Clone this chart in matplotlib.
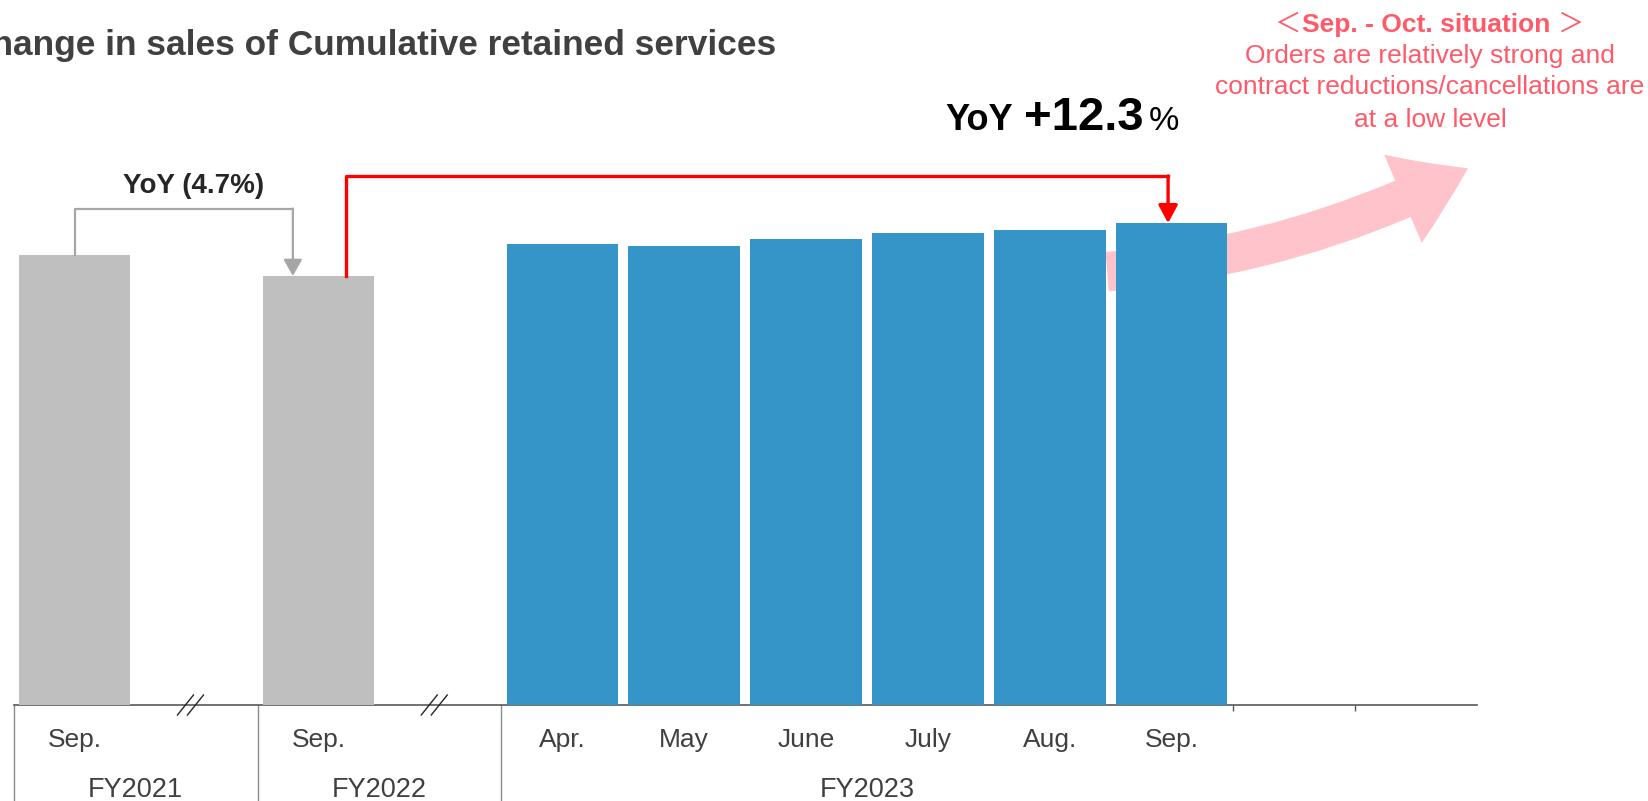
import matplotlib
matplotlib.use("Agg")
from matplotlib import pyplot as plt
from matplotlib.patches import FancyArrowPatch

plt.rcParams['font.family'] = ['Liberation Sans', 'DejaVu Sans']

# sales of cumulative retained services, index (Sep. FY2022 = 100)
months = ["Sep.", "Sep.", "Apr.", "May", "June", "July", "Aug.", "Sep."]
slots = [0, 2, 4, 5, 6, 7, 8, 9]
sales = [104.9, 100.0, 107.5, 107.0, 108.6, 110.0, 110.7, 112.3]
bar_colors = ["#BFBFBF", "#BFBFBF"] + ["#3595C9"] * 6
years = ["FY2021", "FY2022", "FY2023"]
year_spans = [(-0.5, 1.5), (1.5, 3.5), (3.5, 9.5)]
break_slots = [0.95, 2.95]

note_head = "Sep. - Oct. situation"
note_lines = ["Orders are relatively strong and",
              "contract reductions/cancellations are",
              "at a low level"]

W, H, DPI = 1648, 801, 100
TEXT = "#404040"
PINK_TXT = "#FF5A69"


def fpos(x, y):
    # pixel position (from top-left) -> figure fraction
    return x / W, 1 - y / H


fig = plt.figure(figsize=(W / DPI, H / DPI), dpi=DPI)
ax = fig.add_axes([13.7 / W, 96 / H, 1462.8 / W, 705 / H])
ax.set_xlim(-0.5, 11.5)
ax.set_ylim(0, 164.3)

ax.bar(slots, sales, width=0.914, color=bar_colors, zorder=3)

for s in ["left", "right", "top"]:
    ax.spines[s].set_visible(False)
ax.spines["bottom"].set_color("#595959")
ax.spines["bottom"].set_linewidth(1.2)
ax.set_yticks([])
ax.set_xticks([9.5, 10.5])
ax.set_xticklabels([])
ax.tick_params(axis="x", length=4, width=1, color="#595959")

# category table under the axis
for m, p in zip(months, slots):
    ax.annotate(m, (p, 0), xycoords=("data", "axes fraction"),
                xytext=(0, -41.7), textcoords="offset pixels",
                ha="center", va="baseline", fontsize=19, color=TEXT)
for y, (a, b) in zip(years, year_spans):
    ax.annotate(y, ((a + b) / 2, 0), xycoords=("data", "axes fraction"),
                xytext=(0, -92), textcoords="offset pixels",
                ha="center", va="baseline", fontsize=19.5, color=TEXT)
    ax.plot([a, a], [0, -0.2], transform=ax.get_xaxis_transform(),
            color="#8C8C8C", lw=1, clip_on=False, zorder=1)

# axis break marks
px_x = (ax.get_xlim()[1] - ax.get_xlim()[0]) / (1462.8)
px_y = (ax.get_ylim()[1] - ax.get_ylim()[0]) / 705
for b in break_slots:
    for off in (-5, 5):
        xc = b + off * px_x
        ax.plot([xc - 8 * px_x, xc + 8 * px_x], [-10 * px_y, 10 * px_y],
                color="#262626", lw=1, clip_on=False, zorder=4)

# FY2021 -> FY2022 connector
g_top, g_x = 115.7, 1.79
ax.plot([0, 0, g_x], [sales[0], g_top, g_top], color="#A6A6A6", lw=1.6,
        solid_capstyle="projecting", zorder=4)
ax.annotate("", xy=(g_x, sales[1]), xytext=(g_x, g_top),
            arrowprops=dict(arrowstyle="-|>,head_length=1.0,head_width=0.57",
                            mutation_scale=10, color="#A6A6A6", lw=1.6,
                            shrinkA=0, shrinkB=0), zorder=4)
yoy22 = (sales[1] / sales[0] - 1) * 100
ax.text(0.977, 119.3, f"YoY ({abs(yoy22):.1f}%)", ha="center", va="baseline",
        fontsize=20, fontweight="bold", color="#262626")

# FY2022 -> FY2023 connector
r_top, r_x0, r_x1 = 123.3, 2.225, 8.97
ax.plot([r_x0, r_x0, r_x1], [sales[1], r_top, r_top], color="#FF0000", lw=2.4,
        solid_capstyle="projecting", zorder=4)
ax.annotate("", xy=(r_x1, sales[-1]), xytext=(r_x1, r_top),
            arrowprops=dict(arrowstyle="-|>,head_length=1.08,head_width=0.58",
                            mutation_scale=10, color="#FF0000", lw=2.4,
                            shrinkA=0, shrinkB=0), zorder=4)
yoy23 = (sales[-1] / sales[1] - 1) * 100
ax.text(7.146, 134.0, "YoY", ha="left", va="baseline",
        fontsize=26, fontweight="bold", color="black")
ax.text(7.792, 134.0, f"+{yoy23:.1f}", ha="left", va="baseline",
        fontsize=34, fontweight="bold", color="black")
ax.text(8.81, 134.0, "%", ha="left", va="baseline", fontsize=24.5, color="black")

# upward trend arrow behind the last bars
trend = FancyArrowPatch(
    posA=(8.47, 101.0), posB=(11.43, 125.1),
    arrowstyle="simple,head_length=51.7,head_width=69,tail_width=28.5",
    connectionstyle="arc3,rad=0.1", mutation_scale=1,
    color="#FFC4CB", lw=0, shrinkA=0, shrinkB=0, zorder=2, clip_on=False)
ax.add_patch(trend)

fig.text(*fpos(776, 54.5), "Change in sales of Cumulative retained services",
         ha="right", va="baseline", fontsize=25.4, fontweight="bold", color=TEXT)

# situation note
fig.text(*fpos(1287.5, 31.7), "＜", ha="center", va="baseline", fontsize=19,
         color=PINK_TXT, family=["Noto Sans CJK JP"])
fig.text(*fpos(1426, 31.7), note_head, ha="center", va="baseline", fontsize=19,
         fontweight="bold", color=PINK_TXT)
fig.text(*fpos(1571, 31.7), "＞", ha="center", va="baseline", fontsize=19,
         color=PINK_TXT, family=["Noto Sans CJK JP"])
for line, y in zip(note_lines, [63.3, 94.0, 126.7]):
    fig.text(*fpos(1430, y), line, ha="center", va="baseline", fontsize=19,
             color=PINK_TXT)

fig.savefig("out.png", dpi=DPI)
